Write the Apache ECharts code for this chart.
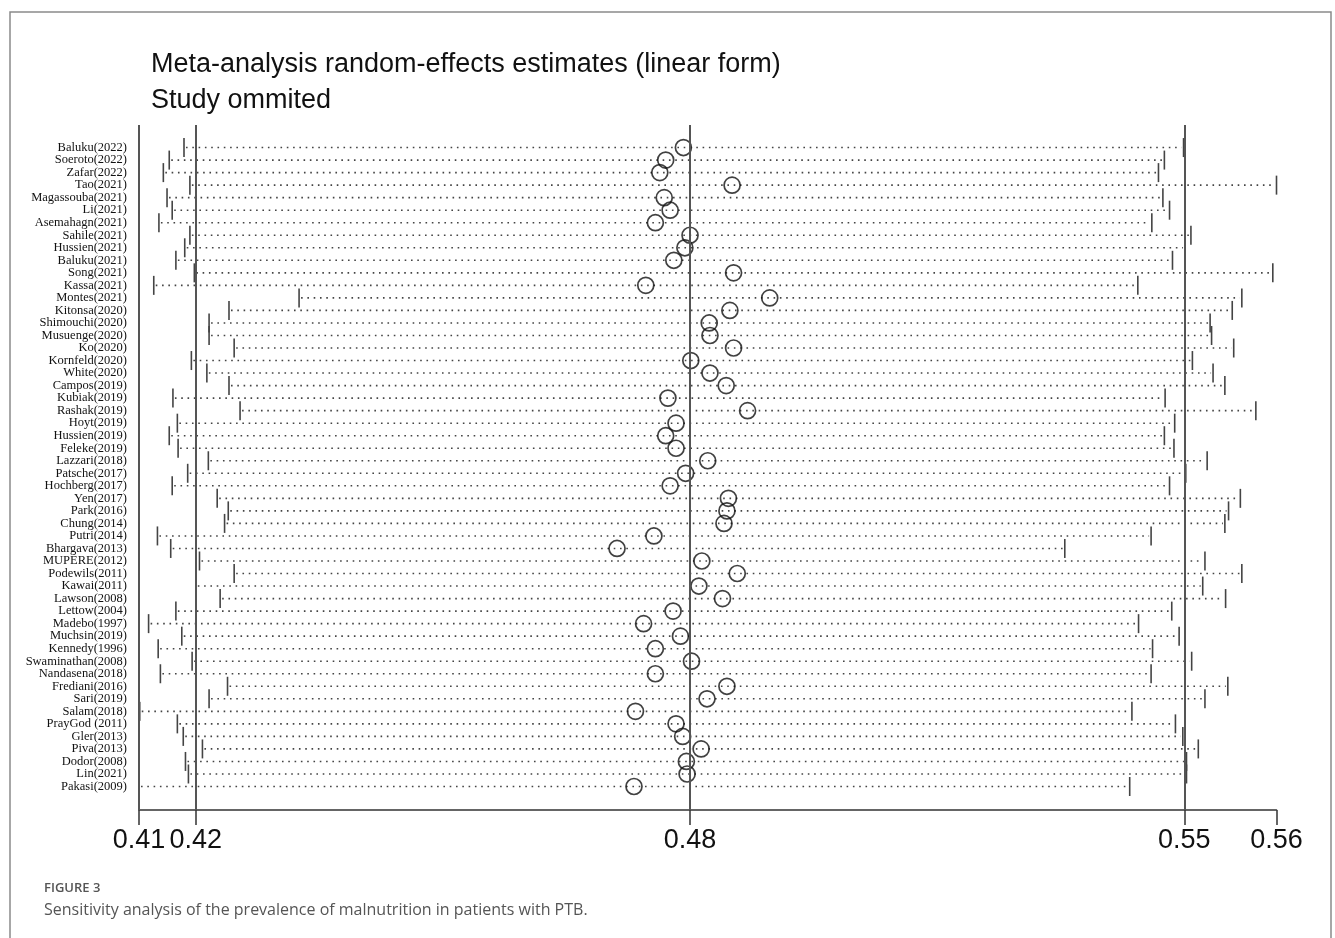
<!DOCTYPE html>
<html>
<head>
<meta charset="utf-8">
<script src="https://cdn.jsdelivr.net/npm/echarts@6/dist/echarts.min.js"></script>
<style>
html,body{margin:0;padding:0;background:#fff;}
#chart{width:1335px;height:938px;}
</style>
</head>
<body>
<div id="chart"></div>
<script>
// ---- data ----
const studies = ['Baluku(2022)','Soeroto(2022)','Zafar(2022)','Tao(2021)','Magassouba(2021)','Li(2021)','Asemahagn(2021)','Sahile(2021)','Hussien(2021)','Baluku(2021)','Song(2021)','Kassa(2021)','Montes(2021)','Kitonsa(2020)','Shimouchi(2020)','Musuenge(2020)','Ko(2020)','Kornfeld(2020)','White(2020)','Campos(2019)','Kubiak(2019)','Rashak(2019)','Hoyt(2019)','Hussien(2019)','Feleke(2019)','Lazzari(2018)','Patsche(2017)','Hochberg(2017)','Yen(2017)','Park(2016)','Chung(2014)','Putri(2014)','Bhargava(2013)','MUPERE(2012)','Podewils(2011)','Kawai(2011)','Lawson(2008)','Lettow(2004)','Madebo(1997)','Muchsin(2019)','Kennedy(1996)','Swaminathan(2008)','Nandasena(2018)','Frediani(2016)','Sari(2019)','Salam(2018)','PrayGod (2011)','Gler(2013)','Piva(2013)','Dodor(2008)','Lin(2021)','Pakasi(2009)'];
const lower = [0.4142,0.4122,0.4114,0.4150,0.4119,0.4126,0.4108,0.4150,0.4143,0.4131,0.4156,0.4101,0.4298,0.4203,0.4176,0.4176,0.4210,0.4152,0.4173,0.4203,0.4127,0.4218,0.4133,0.4122,0.4134,0.4175,0.4147,0.4126,0.4187,0.4202,0.4197,0.4106,0.4124,0.4163,0.4210,0.4158,0.4191,0.4131,0.4094,0.4139,0.4107,0.4153,0.4110,0.4201,0.4176,0.4082,0.4133,0.4141,0.4167,0.4144,0.4148,0.4081];
const estimate = [0.4819,0.4795,0.4787,0.4885,0.4793,0.4801,0.4781,0.4828,0.4821,0.4806,0.4887,0.4768,0.4936,0.4882,0.4854,0.4855,0.4887,0.4829,0.4855,0.4877,0.4798,0.4906,0.4809,0.4795,0.4809,0.4852,0.4822,0.4801,0.4880,0.4878,0.4874,0.4779,0.4729,0.4844,0.4892,0.4840,0.4872,0.4805,0.4765,0.4815,0.4781,0.4830,0.4781,0.4878,0.4851,0.4754,0.4809,0.4818,0.4843,0.4823,0.4824,0.4752];
const upper = [0.5497,0.5471,0.5463,0.5623,0.5469,0.5478,0.5454,0.5507,0.5499,0.5482,0.5618,0.5435,0.5576,0.5563,0.5533,0.5535,0.5565,0.5509,0.5537,0.5553,0.5472,0.5595,0.5485,0.5471,0.5484,0.5529,0.5500,0.5478,0.5574,0.5558,0.5553,0.5453,0.5336,0.5526,0.5576,0.5523,0.5554,0.5481,0.5436,0.5491,0.5455,0.5508,0.5453,0.5557,0.5526,0.5427,0.5486,0.5496,0.5517,0.5501,0.5501,0.5424];
const overall = [0.4158, 0.4828, 0.5498]; // lower CI, estimate, upper CI (all studies)

const xMin = Math.min(...lower);
const xMax = Math.max(...upper);
const tickValues = [xMin, overall[0], overall[1], overall[2], xMax];
const refLines = [xMin, overall[0], overall[1], overall[2]];

const rows = studies.map((s, i) => [i, lower[i], estimate[i], upper[i]]);

const chart = echarts.init(document.getElementById('chart'), null, {renderer: 'canvas'});

const sansFont = '"Liberation Sans", Arial, sans-serif';

const option = {
  backgroundColor: '#ffffff',
  animation: false,
  title: [
    {text: 'Meta-analysis random-effects estimates (linear form)', left: 146, top: 46,
     textStyle: {fontFamily: sansFont, fontSize: 27, fontWeight: 'normal', color: '#111'}},
    {text: 'Study ommited', left: 146, top: 82,
     textStyle: {fontFamily: sansFont, fontSize: 27, fontWeight: 'normal', color: '#111'}},
    {text: 'FIGURE 3', left: 39, top: 877,
     textStyle: {fontFamily: '"Open Sans", sans-serif', fontSize: 13, fontWeight: 600, color: '#555'}},
    {text: 'Sensitivity analysis of the prevalence of malnutrition in patients with PTB.', left: 39, top: 897,
     textStyle: {fontFamily: '"Open Sans", sans-serif', fontSize: 16, fontWeight: 'normal', color: '#555'}}
  ],
  graphic: [
    {type: 'rect', shape: {x: 10, y: 12, width: 1321, height: 1000}, style: {fill: 'none', stroke: '#8a8a8a', lineWidth: 1.5}, silent: true, z: -1}
  ],
  grid: {left: 139, right: 58.5, top: 125, bottom: 128, containLabel: false},
  xAxis: {
    type: 'value', min: xMin, max: xMax, position: 'bottom',
    axisLine: {show: true, onZero: false, lineStyle: {color: '#333', width: 1.5}},
    axisTick: {show: true, customValues: tickValues, length: 15, inside: false, lineStyle: {color: '#333', width: 1.5}},
    axisLabel: {show: true, customValues: tickValues, formatter: v => v.toFixed(2), margin: 17,
      showMinLabel: true, showMaxLabel: true, hideOverlap: false,
      fontFamily: sansFont, fontSize: 27, color: '#111'},
    splitLine: {show: false}
  },
  yAxis: {
    type: 'value', inverse: true, min: -1.8, max: 52.875, show: false
  },
  series: [
    {
      name: 'ci', type: 'custom', data: rows, silent: true,
      encode: {x: [1, 3], y: 0},
      renderItem: function (params, api) {
        const i = api.value(0);
        const pL = api.coord([api.value(1), i]);
        const pU = api.coord([api.value(3), i]);
        const h = 9.5;
        return {
          type: 'group',
          children: [
            {type: 'line', shape: {x1: pL[0] + 2, y1: pL[1], x2: pU[0] - 2, y2: pU[1]},
             style: {stroke: '#444', lineWidth: 1.6, lineDash: [1.6, 4.7]}},
            {type: 'line', shape: {x1: pL[0], y1: pL[1] - h, x2: pL[0], y2: pL[1] + h},
             style: {stroke: '#444', lineWidth: 1.6}},
            {type: 'line', shape: {x1: pU[0], y1: pU[1] - h, x2: pU[0], y2: pU[1] + h},
             style: {stroke: '#444', lineWidth: 1.6}}
          ]
        };
      },
      z: 2
    },
    {
      name: 'estimate', type: 'scatter', silent: true,
      data: rows.map(r => [r[2], r[0]]),
      symbol: 'circle', symbolSize: 16,
      itemStyle: {color: 'rgba(0,0,0,0)', borderColor: '#111', borderWidth: 1.7},
      markLine: {
        silent: true, symbol: 'none', label: {show: false}, precision: 6,
        lineStyle: {color: '#555', width: 2, type: 'solid'},
        emphasis: {disabled: true},
        data: refLines.map(v => ({xAxis: v}))
      },
      z: 3
    },
    {
      name: 'labels', type: 'custom', silent: true,
      data: rows.map(r => [xMin, r[0]]),
      encode: {x: 0, y: 1},
      renderItem: function (params, api) {
        const p = api.coord([api.value(0), api.value(1)]);
        return {
          type: 'text',
          style: {text: studies[params.dataIndex], x: p[0] - 12, y: p[1], align: 'right', verticalAlign: 'middle',
                  font: '12.5px "Liberation Serif", "Times New Roman", serif', fill: '#111'}
        };
      },
      clip: false,
      z: 4
    }
  ]
};
chart.setOption(option);
</script>
</body>
</html>
